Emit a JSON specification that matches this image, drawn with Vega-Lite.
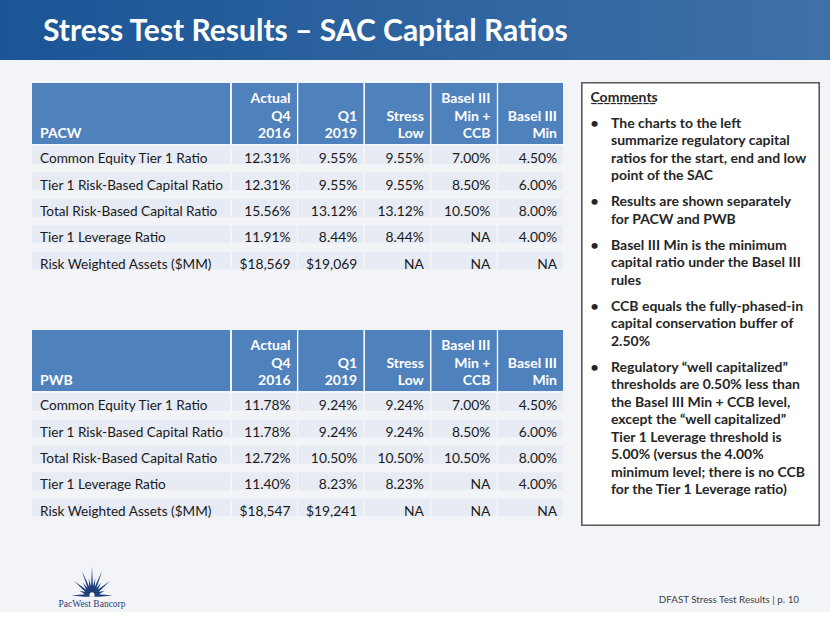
{
  "$schema": "https://vega.github.io/schema/vega-lite/v6.json",
  "padding": 0,
  "background": "#f2f4f8",
  "spacing": 22,
  "config": {"view": {"stroke": null}, "text": {"font": "Lato"}},
  "datasets": {
    "heads": [
      {"c": "Actual Q4 2016", "ln": 1, "t": "Actual"},
      {"c": "Actual Q4 2016", "ln": 2, "t": "Q4"},
      {"c": "Actual Q4 2016", "ln": 3, "t": "2016"},
      {"c": "Q1 2019", "ln": 2, "t": "Q1"},
      {"c": "Q1 2019", "ln": 3, "t": "2019"},
      {"c": "Stress Low", "ln": 2, "t": "Stress"},
      {"c": "Stress Low", "ln": 3, "t": "Low"},
      {"c": "Basel III Min + CCB", "ln": 1, "t": "Basel III"},
      {"c": "Basel III Min + CCB", "ln": 2, "t": "Min +"},
      {"c": "Basel III Min + CCB", "ln": 3, "t": "CCB"},
      {"c": "Basel III Min", "ln": 2, "t": "Basel III"},
      {"c": "Basel III Min", "ln": 3, "t": "Min"}
    ],
    "pacw": [
      {"m": "Common Equity Tier 1 Ratio", "c": "Actual Q4 2016", "v": "12.31%"},
      {"m": "Common Equity Tier 1 Ratio", "c": "Q1 2019", "v": "9.55%"},
      {"m": "Common Equity Tier 1 Ratio", "c": "Stress Low", "v": "9.55%"},
      {"m": "Common Equity Tier 1 Ratio", "c": "Basel III Min + CCB", "v": "7.00%"},
      {"m": "Common Equity Tier 1 Ratio", "c": "Basel III Min", "v": "4.50%"},
      {"m": "Tier 1 Risk-Based Capital Ratio", "c": "Actual Q4 2016", "v": "12.31%"},
      {"m": "Tier 1 Risk-Based Capital Ratio", "c": "Q1 2019", "v": "9.55%"},
      {"m": "Tier 1 Risk-Based Capital Ratio", "c": "Stress Low", "v": "9.55%"},
      {"m": "Tier 1 Risk-Based Capital Ratio", "c": "Basel III Min + CCB", "v": "8.50%"},
      {"m": "Tier 1 Risk-Based Capital Ratio", "c": "Basel III Min", "v": "6.00%"},
      {"m": "Total Risk-Based Capital Ratio", "c": "Actual Q4 2016", "v": "15.56%"},
      {"m": "Total Risk-Based Capital Ratio", "c": "Q1 2019", "v": "13.12%"},
      {"m": "Total Risk-Based Capital Ratio", "c": "Stress Low", "v": "13.12%"},
      {"m": "Total Risk-Based Capital Ratio", "c": "Basel III Min + CCB", "v": "10.50%"},
      {"m": "Total Risk-Based Capital Ratio", "c": "Basel III Min", "v": "8.00%"},
      {"m": "Tier 1 Leverage Ratio", "c": "Actual Q4 2016", "v": "11.91%"},
      {"m": "Tier 1 Leverage Ratio", "c": "Q1 2019", "v": "8.44%"},
      {"m": "Tier 1 Leverage Ratio", "c": "Stress Low", "v": "8.44%"},
      {"m": "Tier 1 Leverage Ratio", "c": "Basel III Min + CCB", "v": "NA"},
      {"m": "Tier 1 Leverage Ratio", "c": "Basel III Min", "v": "4.00%"},
      {"m": "Risk Weighted Assets ($MM)", "c": "Actual Q4 2016", "v": "$18,569"},
      {"m": "Risk Weighted Assets ($MM)", "c": "Q1 2019", "v": "$19,069"},
      {"m": "Risk Weighted Assets ($MM)", "c": "Stress Low", "v": "NA"},
      {"m": "Risk Weighted Assets ($MM)", "c": "Basel III Min + CCB", "v": "NA"},
      {"m": "Risk Weighted Assets ($MM)", "c": "Basel III Min", "v": "NA"}
    ],
    "pwb": [
      {"m": "Common Equity Tier 1 Ratio", "c": "Actual Q4 2016", "v": "11.78%"},
      {"m": "Common Equity Tier 1 Ratio", "c": "Q1 2019", "v": "9.24%"},
      {"m": "Common Equity Tier 1 Ratio", "c": "Stress Low", "v": "9.24%"},
      {"m": "Common Equity Tier 1 Ratio", "c": "Basel III Min + CCB", "v": "7.00%"},
      {"m": "Common Equity Tier 1 Ratio", "c": "Basel III Min", "v": "4.50%"},
      {"m": "Tier 1 Risk-Based Capital Ratio", "c": "Actual Q4 2016", "v": "11.78%"},
      {"m": "Tier 1 Risk-Based Capital Ratio", "c": "Q1 2019", "v": "9.24%"},
      {"m": "Tier 1 Risk-Based Capital Ratio", "c": "Stress Low", "v": "9.24%"},
      {"m": "Tier 1 Risk-Based Capital Ratio", "c": "Basel III Min + CCB", "v": "8.50%"},
      {"m": "Tier 1 Risk-Based Capital Ratio", "c": "Basel III Min", "v": "6.00%"},
      {"m": "Total Risk-Based Capital Ratio", "c": "Actual Q4 2016", "v": "12.72%"},
      {"m": "Total Risk-Based Capital Ratio", "c": "Q1 2019", "v": "10.50%"},
      {"m": "Total Risk-Based Capital Ratio", "c": "Stress Low", "v": "10.50%"},
      {"m": "Total Risk-Based Capital Ratio", "c": "Basel III Min + CCB", "v": "10.50%"},
      {"m": "Total Risk-Based Capital Ratio", "c": "Basel III Min", "v": "8.00%"},
      {"m": "Tier 1 Leverage Ratio", "c": "Actual Q4 2016", "v": "11.40%"},
      {"m": "Tier 1 Leverage Ratio", "c": "Q1 2019", "v": "8.23%"},
      {"m": "Tier 1 Leverage Ratio", "c": "Stress Low", "v": "8.23%"},
      {"m": "Tier 1 Leverage Ratio", "c": "Basel III Min + CCB", "v": "NA"},
      {"m": "Tier 1 Leverage Ratio", "c": "Basel III Min", "v": "4.00%"},
      {"m": "Risk Weighted Assets ($MM)", "c": "Actual Q4 2016", "v": "$18,547"},
      {"m": "Risk Weighted Assets ($MM)", "c": "Q1 2019", "v": "$19,241"},
      {"m": "Risk Weighted Assets ($MM)", "c": "Stress Low", "v": "NA"},
      {"m": "Risk Weighted Assets ($MM)", "c": "Basel III Min + CCB", "v": "NA"},
      {"m": "Risk Weighted Assets ($MM)", "c": "Basel III Min", "v": "NA"}
    ],
    "comments": [
      {"line": 0, "para": 0, "role": "heading", "text": "Comments"},
      {"line": 1, "para": 1, "role": "first", "text": "The charts to the left"},
      {"line": 2, "para": 1, "role": "cont", "text": "summarize regulatory capital"},
      {"line": 3, "para": 1, "role": "cont", "text": "ratios for the start, end and low"},
      {"line": 4, "para": 1, "role": "cont", "text": "point of the SAC"},
      {"line": 5, "para": 2, "role": "first", "text": "Results are shown separately"},
      {"line": 6, "para": 2, "role": "cont", "text": "for PACW and PWB"},
      {"line": 7, "para": 3, "role": "first", "text": "Basel III Min is the minimum"},
      {"line": 8, "para": 3, "role": "cont", "text": "capital ratio under the Basel III"},
      {"line": 9, "para": 3, "role": "cont", "text": "rules"},
      {"line": 10, "para": 4, "role": "first", "text": "CCB equals the fully-phased-in"},
      {"line": 11, "para": 4, "role": "cont", "text": "capital conservation buffer of"},
      {"line": 12, "para": 4, "role": "cont", "text": "2.50%"},
      {"line": 13, "para": 5, "role": "first", "text": "Regulatory “well capitalized”"},
      {"line": 14, "para": 5, "role": "cont", "text": "thresholds are 0.50% less than"},
      {"line": 15, "para": 5, "role": "cont", "text": "the Basel III Min + CCB level,"},
      {"line": 16, "para": 5, "role": "cont", "text": "except the “well capitalized”"},
      {"line": 17, "para": 5, "role": "cont", "text": "Tier 1 Leverage threshold is"},
      {"line": 18, "para": 5, "role": "cont", "text": "5.00% (versus the 4.00%"},
      {"line": 19, "para": 5, "role": "cont", "text": "minimum level; there is no CCB"},
      {"line": 20, "para": 5, "role": "cont", "text": "for the Tier 1 Leverage ratio)"}
    ]
  },
  "vconcat": [
    {
      "width": 830,
      "height": 60,
      "data": {"values": [{"t": "Stress Test Results – SAC Capital Ratios"}]},
      "layer": [
        {"mark": {"type": "rect", "color": {"gradient": "linear", "x1": 0, "y1": 0, "x2": 1, "y2": 0, "stops": [{"offset": 0, "color": "#1b5596"}, {"offset": 1, "color": "#3f71a8"}]}}, "encoding": {}},
        {"mark": {"type": "text", "align": "left", "baseline": "alphabetic", "dx": -372, "dy": 11, "fontSize": 30, "fontWeight": "bold", "color": "white"}, "encoding": {"text": {"field": "t"}}}
      ]
    },
    {
      "hconcat": [
        {"width": 14, "height": 10, "data": {"values": [{}]}, "mark": {"type": "rect", "opacity": 0}, "encoding": {}},
        {
          "vconcat": [
            {
              "vconcat": [
                {
                  "hconcat": [
                    {
                      "width": 198, "height": 61,
                      "data": {"values": [{"e": "PACW"}]},
                      "layer": [
                        {"mark": {"type": "rect", "color": "#4f81bd"}, "encoding": {}},
                        {"mark": {"type": "text", "align": "left", "baseline": "alphabetic", "dx": -91, "dy": 24.5, "fontSize": 14, "fontWeight": "bold", "color": "white"}, "encoding": {"text": {"field": "e"}}}
                      ]
                    },
                    {
                      "width": 331, "height": 61,
                      "data": {"name": "heads"},
                      "layer": [
                        {"mark": {"type": "rect", "color": "#4f81bd"}, "encoding": {"x": {"field": "c", "type": "nominal", "sort": null, "scale": {"paddingInner": 0.03, "paddingOuter": 0}, "axis": null}}},
                        {"mark": {"type": "text", "align": "right", "baseline": "alphabetic", "dx": -6, "fontSize": 14, "fontWeight": "bold", "color": "white"}, "encoding": {"x": {"field": "c", "type": "nominal", "sort": null, "bandPosition": 1, "axis": null}, "y": {"field": "ln", "type": "ordinal", "scale": {"domain": [1, 2, 3], "range": [20, 55], "padding": 0}, "axis": null}, "text": {"field": "t"}}}
                      ]
                    }
                  ],
                  "spacing": 2
                },
                {
                  "hconcat": [
                    {
                      "width": 198, "height": 130,
                      "data": {"name": "pacw"},
                      "transform": [{"filter": "datum.c === 'Actual Q4 2016'"}],
                      "encoding": {"y": {"field": "m", "type": "nominal", "sort": null, "scale": {"paddingInner": 0.0758, "paddingOuter": 0}, "axis": null}},
                      "layer": [
                        {"mark": {"type": "rect", "color": "#e7ebf3"}},
                        {"mark": {"type": "text", "align": "left", "baseline": "middle", "dx": -91, "dy": 1, "fontSize": 13.6, "color": "#1a1a1a"}, "encoding": {"text": {"field": "m"}}}
                      ]
                    },
                    {
                      "width": 331, "height": 130,
                      "data": {"name": "pacw"},
                      "encoding": {
                        "x": {"field": "c", "type": "nominal", "sort": null, "scale": {"paddingInner": 0.03, "paddingOuter": 0}, "axis": null},
                        "y": {"field": "m", "type": "nominal", "sort": null, "scale": {"paddingInner": 0.0758, "paddingOuter": 0}, "axis": null}
                      },
                      "layer": [
                        {"mark": {"type": "rect", "color": "#e7ebf3"}},
                        {"mark": {"type": "text", "align": "right", "baseline": "middle", "dx": -6, "dy": 1, "fontSize": 13.8, "color": "#1a1a1a"}, "encoding": {"x": {"field": "c", "type": "nominal", "sort": null, "bandPosition": 1, "axis": null}, "text": {"field": "v"}}}
                      ]
                    }
                  ],
                  "spacing": 2
                }
              ],
              "spacing": 2
            },
            {
              "vconcat": [
                {
                  "hconcat": [
                    {
                      "width": 198, "height": 61,
                      "data": {"values": [{"e": "PWB"}]},
                      "layer": [
                        {"mark": {"type": "rect", "color": "#4f81bd"}, "encoding": {}},
                        {"mark": {"type": "text", "align": "left", "baseline": "alphabetic", "dx": -91, "dy": 24.5, "fontSize": 14, "fontWeight": "bold", "color": "white"}, "encoding": {"text": {"field": "e"}}}
                      ]
                    },
                    {
                      "width": 331, "height": 61,
                      "data": {"name": "heads"},
                      "layer": [
                        {"mark": {"type": "rect", "color": "#4f81bd"}, "encoding": {"x": {"field": "c", "type": "nominal", "sort": null, "scale": {"paddingInner": 0.03, "paddingOuter": 0}, "axis": null}}},
                        {"mark": {"type": "text", "align": "right", "baseline": "alphabetic", "dx": -6, "fontSize": 14, "fontWeight": "bold", "color": "white"}, "encoding": {"x": {"field": "c", "type": "nominal", "sort": null, "bandPosition": 1, "axis": null}, "y": {"field": "ln", "type": "ordinal", "scale": {"domain": [1, 2, 3], "range": [20, 55], "padding": 0}, "axis": null}, "text": {"field": "t"}}}
                      ]
                    }
                  ],
                  "spacing": 2
                },
                {
                  "hconcat": [
                    {
                      "width": 198, "height": 130,
                      "data": {"name": "pwb"},
                      "transform": [{"filter": "datum.c === 'Actual Q4 2016'"}],
                      "encoding": {"y": {"field": "m", "type": "nominal", "sort": null, "scale": {"paddingInner": 0.0758, "paddingOuter": 0}, "axis": null}},
                      "layer": [
                        {"mark": {"type": "rect", "color": "#e7ebf3"}},
                        {"mark": {"type": "text", "align": "left", "baseline": "middle", "dx": -91, "dy": 1, "fontSize": 13.6, "color": "#1a1a1a"}, "encoding": {"text": {"field": "m"}}}
                      ]
                    },
                    {
                      "width": 331, "height": 130,
                      "data": {"name": "pwb"},
                      "encoding": {
                        "x": {"field": "c", "type": "nominal", "sort": null, "scale": {"paddingInner": 0.03, "paddingOuter": 0}, "axis": null},
                        "y": {"field": "m", "type": "nominal", "sort": null, "scale": {"paddingInner": 0.0758, "paddingOuter": 0}, "axis": null}
                      },
                      "layer": [
                        {"mark": {"type": "rect", "color": "#e7ebf3"}},
                        {"mark": {"type": "text", "align": "right", "baseline": "middle", "dx": -6, "dy": 1, "fontSize": 13.8, "color": "#1a1a1a"}, "encoding": {"x": {"field": "c", "type": "nominal", "sort": null, "bandPosition": 1, "axis": null}, "text": {"field": "v"}}}
                      ]
                    }
                  ],
                  "spacing": 2
                }
              ],
              "spacing": 2
            }
          ],
          "spacing": 54
        },
        {
          "width": 237, "height": 442,
          "data": {"name": "comments"},
          "encoding": {
            "y": {"field": "line", "type": "ordinal", "scale": {"range": [15, 383.5], "padding": 0}, "axis": null},
            "yOffset": {"field": "para", "type": "quantitative", "scale": {"domain": [0, 5], "range": [0, 41.5]}}
          },
          "layer": [
            {"mark": {"type": "rect", "fill": "white", "stroke": "#595959", "strokeWidth": 1.2}, "encoding": {"y": null, "yOffset": null}},
            {"transform": [{"filter": "datum.role !== 'heading'"}], "mark": {"type": "text", "align": "left", "baseline": "middle", "dx": -89.5, "fontSize": 14, "fontWeight": "bold", "color": "#262626"}, "encoding": {"text": {"field": "text"}}},
            {"transform": [{"filter": "datum.role === 'first'"}], "mark": {"type": "text", "align": "left", "baseline": "middle", "dx": -110, "fontSize": 14, "fontWeight": "bold", "color": "#262626"}, "encoding": {"text": {"value": "•"}}},
            {"transform": [{"filter": "datum.role === 'heading'"}], "mark": {"type": "text", "align": "left", "baseline": "middle", "dx": -110, "fontSize": 14, "fontWeight": "bold", "color": "#262626"}, "encoding": {"text": {"field": "text"}}},
            {"transform": [{"filter": "datum.role === 'heading'"}], "mark": {"type": "text", "align": "left", "baseline": "middle", "dx": -110, "fontSize": 14, "fontWeight": "bold", "color": "#262626"}, "encoding": {"text": {"value": "__________"}}}
          ]
        }
      ],
      "spacing": 18
    },
    {
      "hconcat": [
        {"width": 58, "height": 10, "data": {"values": [{}]}, "mark": {"type": "rect", "opacity": 0}, "encoding": {}},
        {
          "width": 66, "height": 64,
          "data": {"values": [{"part": "burst"}, {"part": "name", "label": "PacWest Bancorp"}]},
          "encoding": {"y": {"field": "part", "type": "nominal", "sort": null, "scale": {"range": [33, 56], "padding": 0}, "axis": null}},
          "layer": [
            {"transform": [{"filter": "datum.part === 'burst'"}], "mark": {"type": "point", "shape": "M0.347,0.759 L1,0.7 L0.347,0.641 L0.599,0.475 L0.323,0.528 L0.866,0 L0.278,0.426 L0.438,0.086 L0.213,0.343 L0.5,-0.512 L0.134,0.284 L0.16,-0.138 L0.046,0.254 L0,-0.7 L-0.046,0.254 L-0.16,-0.138 L-0.134,0.284 L-0.5,-0.512 L-0.213,0.343 L-0.438,0.086 L-0.278,0.426 L-0.866,0 L-0.323,0.528 L-0.599,0.475 L-0.347,0.641 L-1,0.7 L-0.347,0.759 Z", "size": 1700, "filled": true, "color": "#1f3f7a", "opacity": 1, "strokeWidth": 0}},
            {"transform": [{"filter": "datum.part === 'burst'"}], "mark": {"type": "point", "shape": "M-0.12,0.76 L-0.12,0.66 A0.12,0.12 0 0 1 0.12,0.66 L0.12,0.76 Z", "size": 1700, "filled": true, "color": "#ffffff", "opacity": 1, "strokeWidth": 0}},
            {"transform": [{"filter": "datum.part === 'name'"}], "mark": {"type": "text", "baseline": "middle", "font": "Liberation Serif", "fontSize": 9.5, "color": "#1f3f7a"}, "encoding": {"text": {"field": "label"}}}
          ]
        },
        {
          "width": 706, "height": 64,
          "data": {"values": [{"t": "DFAST Stress Test Results | p. 10"}]},
          "mark": {"type": "text", "align": "right", "baseline": "middle", "dx": 320, "dy": 20, "fontSize": 9.8, "color": "#404040"},
          "encoding": {"text": {"field": "t"}}
        }
      ],
      "spacing": 0
    }
  ]
}
